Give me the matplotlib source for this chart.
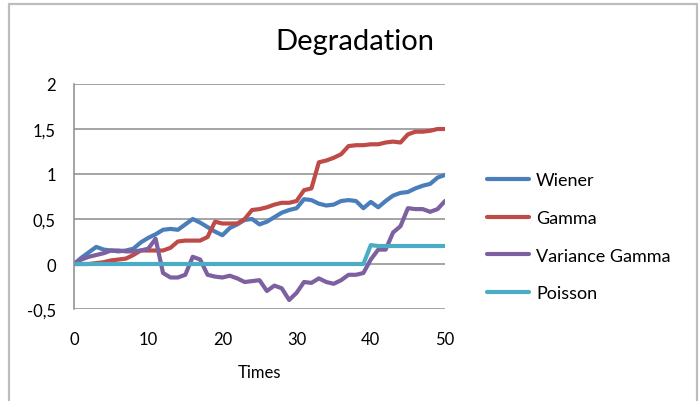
import numpy as np
import matplotlib.pyplot as plt
from matplotlib.patches import Rectangle

plt.rcParams['font.family'] = ['Lato', 'DejaVu Sans']

times = np.arange(0, 51)

wiener = [0, 0.07, 0.13, 0.19, 0.16, 0.15, 0.14, 0.15, 0.17, 0.24,
          0.29, 0.33, 0.38, 0.39, 0.38, 0.44, 0.50, 0.46, 0.41, 0.36,
          0.32, 0.40, 0.44, 0.49, 0.50, 0.44, 0.47, 0.52, 0.57, 0.60,
          0.62, 0.72, 0.71, 0.67, 0.65, 0.66, 0.70, 0.71, 0.70, 0.62,
          0.69, 0.63, 0.70, 0.76, 0.79, 0.80, 0.84, 0.87, 0.89, 0.96,
          0.99]
gamma = [0, 0, 0, 0.01, 0.02, 0.04, 0.05, 0.06, 0.10, 0.15,
         0.15, 0.15, 0.15, 0.18, 0.25, 0.26, 0.26, 0.26, 0.30, 0.47,
         0.45, 0.45, 0.45, 0.50, 0.60, 0.61, 0.63, 0.66, 0.68, 0.68,
         0.70, 0.82, 0.84, 1.13, 1.15, 1.18, 1.22, 1.31, 1.32, 1.32,
         1.33, 1.33, 1.35, 1.36, 1.35, 1.44, 1.47, 1.47, 1.48, 1.50,
         1.50]
var_gamma = [0, 0.05, 0.08, 0.10, 0.12, 0.15, 0.15, 0.14, 0.14, 0.15,
             0.17, 0.28, -0.10, -0.15, -0.15, -0.12, 0.08, 0.05, -0.12, -0.14,
             -0.15, -0.13, -0.16, -0.20, -0.19, -0.18, -0.30, -0.24, -0.27, -0.40,
             -0.32, -0.20, -0.21, -0.16, -0.20, -0.22, -0.18, -0.12, -0.12, -0.10,
             0.05, 0.16, 0.16, 0.35, 0.42, 0.62, 0.61, 0.61, 0.58, 0.61,
             0.70]
poisson = [0] * 40 + [0.21] + [0.20] * 10

series = [("Wiener", wiener, "#4A7EBB"),
          ("Gamma", gamma, "#BE4B48"),
          ("Variance Gamma", var_gamma, "#7D60A0"),
          ("Poisson", poisson, "#4BACC6")]

fig = plt.figure(figsize=(6.99, 4.02), dpi=100)
ax = fig.add_axes([74 / 699, 1 - 310 / 402, (445 - 74) / 699, (310 - 85) / 402])

# frame around the whole chart
fig.patches.append(Rectangle((9 / 699, -0.05), (697 - 9) / 699, 1.05 - 5 / 402,
                             transform=fig.transFigure, fill=False,
                             edgecolor="#BDBDBD", linewidth=1.6))

for name, vals, col in series:
    ax.plot(times, vals, color=col, linewidth=3.0, label=name,
            solid_joinstyle="round", solid_capstyle="round")

ax.set_xlim(0, 50)
ax.set_ylim(-0.5, 2)
ax.set_xticks([0, 10, 20, 30, 40, 50])
ax.set_yticks([-0.5, 0, 0.5, 1, 1.5, 2])
ax.set_yticklabels(["-0,5", "0", "0,5", "1", "1,5", "2"])
ax.tick_params(axis="both", length=0, labelsize=12, colors="black")
ax.tick_params(axis="y", pad=13)
ax.tick_params(axis="x", pad=16)
ax.grid(axis="y", color="#8C8C8C", linewidth=1.1)
ax.set_axisbelow(True)
for s in ["top", "right", "bottom"]:
    ax.spines[s].set_visible(False)
ax.spines["left"].set_color("#8C8C8C")
ax.spines["left"].set_linewidth(1.1)

ax.set_xlabel("Times", fontsize=12, labelpad=12)
fig.text(355 / 699, 1 - 42 / 402, "Degradation", fontsize=21,
         ha="center", va="center")

fig.legend(loc="upper left", bbox_to_anchor=(471 / 699, 1 - 157 / 402),
           frameon=False, fontsize=13, handlelength=2.3, handletextpad=0.4,
           labelspacing=1.2)

fig.savefig("out.png", dpi=100)
